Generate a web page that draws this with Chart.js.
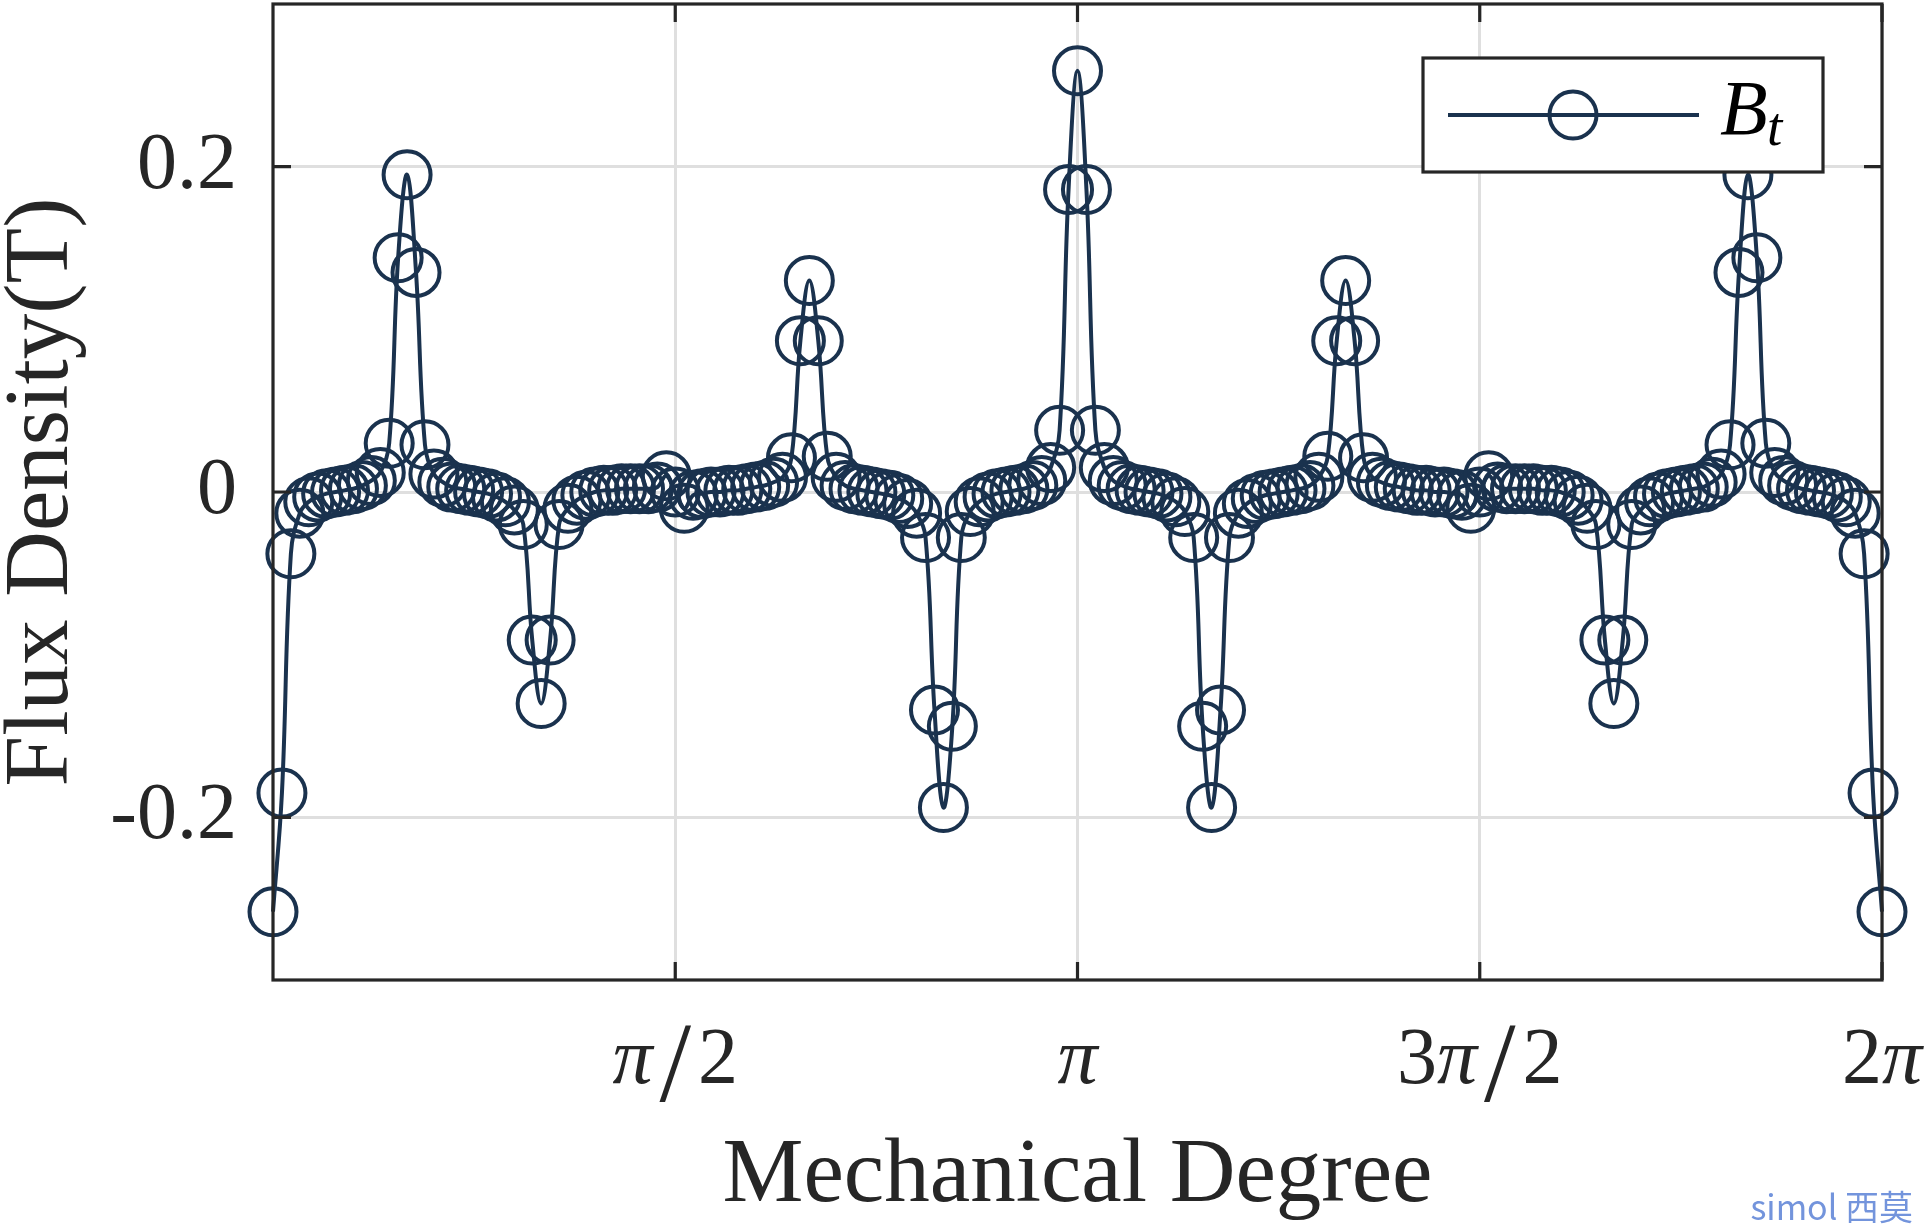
<!DOCTYPE html>
<html>
<head>
<meta charset="utf-8">
<title>Flux Density</title>
<script src="https://cdn.jsdelivr.net/npm/chart.js@4.4.1/dist/chart.umd.min.js"></script>
<style>
  html, body { margin: 0; padding: 0; background: #fff; overflow: hidden; }
  #wrap { width: 1929px; height: 1227px; }
</style>
</head>
<body>
<div id="wrap"><canvas id="chart" width="1929" height="1227"></canvas></div>
<script>
  // Sampling of the air-gap: one value every 2 mechanical degrees, 0..360
  const angleStepDeg = 2;

  // B_t (T)
  const fluxDensity = [
    -0.258, -0.185, -0.038, -0.013, -0.006, -0.003, -0.001, 0.000, 0.001, 0.002,
    0.004, 0.007, 0.012, 0.030, 0.144, 0.195, 0.135, 0.029, 0.011, 0.006,
    0.003, 0.002, 0.001, 0.000, -0.001, -0.003, -0.006, -0.011, -0.020, -0.091,
    -0.130, -0.091, -0.020, -0.010, -0.005, -0.002, 0.000, 0.001, 0.001, 0.002,
    0.002, 0.002, 0.002, 0.003, 0.010, 0.000, -0.010, -0.002, -0.001, 0.000,
    0.000, 0.001, 0.001, 0.002, 0.003, 0.004, 0.006, 0.009, 0.021, 0.093,
    0.130, 0.093, 0.022, 0.009, 0.004, 0.002, 0.001, 0.000, -0.001, -0.002,
    -0.004, -0.007, -0.013, -0.028, -0.134, -0.194, -0.144, -0.028, -0.012, -0.006,
    -0.003, -0.001, 0.000, 0.001, 0.002, 0.004, 0.007, 0.015, 0.038, 0.186,
    0.259, 0.186, 0.038, 0.015, 0.007, 0.004, 0.002, 0.001, 0.000, -0.001,
    -0.003, -0.006, -0.012, -0.028, -0.144, -0.194, -0.134, -0.028, -0.013, -0.007,
    -0.004, -0.002, -0.001, 0.000, 0.001, 0.002, 0.004, 0.009, 0.022, 0.093,
    0.130, 0.093, 0.021, 0.009, 0.006, 0.004, 0.003, 0.002, 0.001, 0.001,
    0.000, 0.000, -0.001, -0.002, -0.010, 0.000, 0.010, 0.003, 0.002, 0.002,
    0.002, 0.002, 0.001, 0.001, 0.000, -0.002, -0.005, -0.010, -0.020, -0.091,
    -0.130, -0.091, -0.020, -0.011, -0.006, -0.003, -0.001, 0.000, 0.001, 0.002,
    0.003, 0.006, 0.011, 0.029, 0.135, 0.195, 0.144, 0.030, 0.012, 0.007,
    0.004, 0.002, 0.001, 0.000, -0.001, -0.003, -0.006, -0.013, -0.038, -0.185,
    -0.258
  ];

  // Axis ticks
  const xTickValues = [Math.PI / 2, Math.PI, 3 * Math.PI / 2, 2 * Math.PI];
  const xTickLabels = ['π/2', 'π', '3π/2', '2π'];
  const yTickValues = [-0.2, 0, 0.2];
  const yTickLabels = ['-0.2', '0', '0.2'];

  const seriesLabel = 'B';
  const seriesSub = 't';

  const serif = '"Liberation Serif", "Times New Roman", serif';
  const lineColor = '#1a324e';
  const axisColor = '#262626';
  const gridColor = '#dfdfdf';
  const strokeW = 4;
  const tickLen = 18;
  const labelSize = 80;

  const points = fluxDensity.map((v, i) => ({
    x: i * angleStepDeg * Math.PI / 180,
    y: v
  }));

  /**
   * Draw a tick label like 3π/2 with an italic pi and a tall slash
   */
  function drawMathLabel(ctx, text, cx, baseline) {
    const parts = text.split('').map(ch => {
      if (ch === 'π') return { ch, font: `italic ${labelSize}px ${serif}`, dy: 0, pad: 0 };
      if (ch === '/') return { ch, font: `${labelSize * 1.42}px ${serif}`, dy: 18, pad: 7 };
      return { ch, font: `${labelSize}px ${serif}`, dy: 0, pad: 0 };
    });
    let total = 0;
    parts.forEach(p => {
      ctx.font = p.font;
      p.w = ctx.measureText(p.ch).width + p.pad * 2;
      total += p.w;
    });
    let x = cx - total / 2;
    ctx.textAlign = 'left';
    ctx.textBaseline = 'alphabetic';
    ctx.fillStyle = axisColor;
    parts.forEach(p => {
      ctx.font = p.font;
      ctx.fillText(p.ch, x + p.pad, baseline + p.dy);
      x += p.w;
    });
  }

  // Box, inward ticks, pi labels, legend and watermark
  const framePlugin = {
    id: 'frame',
    afterDraw(chart) {
      const { ctx, chartArea: a, scales } = chart;
      const xs = scales.x, ys = scales.y;
      ctx.save();

      // axes box
      ctx.strokeStyle = axisColor;
      ctx.lineWidth = 3.2;
      ctx.strokeRect(a.left, a.top, a.right - a.left, a.bottom - a.top);

      // inward ticks on all four sides
      ctx.beginPath();
      xTickValues.forEach(v => {
        const px = xs.getPixelForValue(v);
        ctx.moveTo(px, a.bottom); ctx.lineTo(px, a.bottom - tickLen);
        ctx.moveTo(px, a.top); ctx.lineTo(px, a.top + tickLen);
      });
      yTickValues.forEach(v => {
        const py = ys.getPixelForValue(v);
        ctx.moveTo(a.left, py); ctx.lineTo(a.left + tickLen, py);
        ctx.moveTo(a.right, py); ctx.lineTo(a.right - tickLen, py);
      });
      ctx.stroke();

      // x tick labels
      xTickValues.forEach((v, i) => {
        drawMathLabel(ctx, xTickLabels[i], xs.getPixelForValue(v), a.bottom + 103);
      });

      // legend
      const lw = 400, lh = 114;
      const lx = a.right - 459, ly = a.top + 54;
      ctx.fillStyle = '#fff';
      ctx.fillRect(lx, ly, lw, lh);
      ctx.strokeStyle = axisColor;
      ctx.lineWidth = 3.2;
      ctx.strokeRect(lx, ly, lw, lh);
      const midY = ly + 57;
      ctx.strokeStyle = lineColor;
      ctx.lineWidth = strokeW;
      ctx.beginPath();
      ctx.moveTo(lx + 25, midY); ctx.lineTo(lx + 276, midY);
      ctx.stroke();
      ctx.beginPath();
      ctx.arc(lx + 150, midY, 23.5, 0, Math.PI * 2);
      ctx.stroke();
      ctx.fillStyle = '#000';
      ctx.textAlign = 'left';
      ctx.textBaseline = 'alphabetic';
      ctx.font = `italic 78px ${serif}`;
      ctx.fillText(seriesLabel, lx + 297, ly + 76);
      ctx.font = `italic 55px ${serif}`;
      ctx.fillText(seriesSub, lx + 344, ly + 87);

      // watermark
      ctx.fillStyle = '#7394dc';
      ctx.font = '34px "Noto Sans CJK SC", "Noto Sans", sans-serif';
      ctx.textAlign = 'right';
      ctx.fillText('simol 西莫', 1913, 1220);

      ctx.restore();
    }
  };

  const canvas = document.getElementById('chart');
  new Chart(canvas, {
    type: 'line',
    data: {
      datasets: [{
        label: seriesLabel + seriesSub,
        data: points,
        borderColor: lineColor,
        borderWidth: strokeW,
        tension: 0.4,
        fill: false,
        clip: false,
        pointRadius: 23.5,
        pointBorderWidth: strokeW,
        pointBorderColor: lineColor,
        pointBackgroundColor: 'rgba(0,0,0,0)'
      }]
    },
    options: {
      responsive: false,
      animation: false,
      events: [],
      layout: { autoPadding: false, padding: { top: 4, right: 47, bottom: 0, left: 0 } },
      plugins: {
        legend: { display: false },
        tooltip: { enabled: false }
      },
      scales: {
        x: {
          type: 'linear',
          min: 0,
          max: 2 * Math.PI,
          afterBuildTicks: s => { s.ticks = xTickValues.map(v => ({ value: v })); },
          afterFit: s => { s.height = 247; s.paddingLeft = 0; s.paddingRight = 0; },
          ticks: { display: false },
          grid: { color: gridColor, lineWidth: 3, drawTicks: false },
          border: { display: false },
          title: {
            display: true,
            text: 'Mechanical Degree',
            color: axisColor,
            font: { family: serif, size: 91, lineHeight: 1 },
            padding: { top: 0, bottom: 4 }
          }
        },
        y: {
          type: 'linear',
          min: -0.3,
          max: 0.3,
          afterBuildTicks: s => { s.ticks = yTickValues.map(v => ({ value: v })); },
          afterFit: s => { s.width = 273; s.paddingTop = 0; s.paddingBottom = 0; },
          ticks: {
            color: axisColor,
            padding: 36,
            font: { family: serif, size: labelSize },
            callback: (v, i) => yTickLabels[i]
          },
          grid: { color: gridColor, lineWidth: 3, drawTicks: false },
          border: { display: false },
          title: {
            display: true,
            text: 'Flux Density(T)',
            color: axisColor,
            font: { family: serif, size: 91, lineHeight: 0.78 },
            padding: { top: 8, bottom: 0 }
          }
        }
      }
    },
    plugins: [framePlugin]
  });
</script>
</body>
</html>
